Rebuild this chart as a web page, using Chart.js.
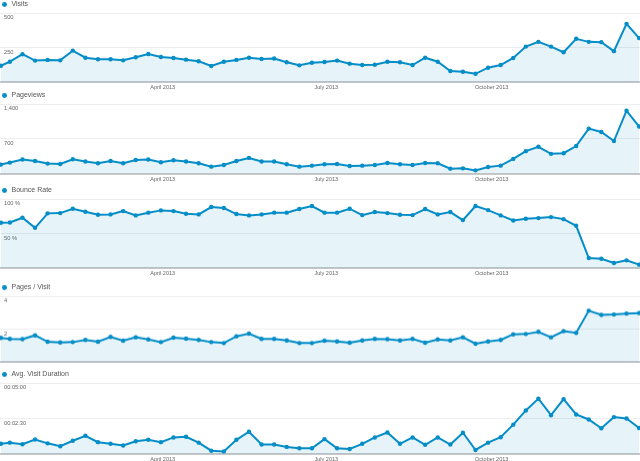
<!DOCTYPE html>
<html>
<head>
<meta charset="utf-8">
<script src="https://cdn.jsdelivr.net/npm/chart.js@4.4.0/dist/chart.umd.min.js"></script>
<style>
  html, body { margin: 0; padding: 0; background: #fff; }
  body { width: 640px; height: 461px; position: relative; overflow: hidden; }
  .panel { position: absolute; left: 0; width: 640px; }
</style>
</head>
<body>
<div class="panel" id="p0"><canvas id="c0"></canvas></div>
<div class="panel" id="p1"><canvas id="c1"></canvas></div>
<div class="panel" id="p2"><canvas id="c2"></canvas></div>
<div class="panel" id="p3"><canvas id="c3"></canvas></div>
<div class="panel" id="p4"><canvas id="c4"></canvas></div>
<script>
// weekly points, first one is the partial week starting Jan 1
const weekDates = [
  '2013-01-01','2013-01-06','2013-01-13','2013-01-20','2013-01-27','2013-02-03','2013-02-10','2013-02-17',
  '2013-02-24','2013-03-03','2013-03-10','2013-03-17','2013-03-24','2013-03-31','2013-04-07','2013-04-14',
  '2013-04-21','2013-04-28','2013-05-05','2013-05-12','2013-05-19','2013-05-26','2013-06-02','2013-06-09',
  '2013-06-16','2013-06-23','2013-06-30','2013-07-07','2013-07-14','2013-07-21','2013-07-28','2013-08-04',
  '2013-08-11','2013-08-18','2013-08-25','2013-09-01','2013-09-08','2013-09-15','2013-09-22','2013-09-29',
  '2013-10-06','2013-10-13','2013-10-20','2013-10-27','2013-11-03','2013-11-10','2013-11-17','2013-11-24',
  '2013-12-01','2013-12-08','2013-12-15','2013-12-22'
];

const visits = [120,149,203,157,162,159,229,178,167,167,159,181,205,183,176,164,152,118,149,162,
  178,169,172,145,123,142,147,157,135,125,127,149,145,125,178,149,82,77,62,106,
  125,176,258,292,258,217,314,292,290,225,422,319];
const pageviews = [183,223,284,256,203,195,290,244,209,256,209,276,284,229,270,244,209,142,175,256,
  317,244,244,189,142,162,189,195,154,162,175,216,189,175,216,209,101,107,67,134,
  162,297,453,541,399,412,555,906,839,656,1265,947];
const bounceRate = [65.8,66.2,73,58.5,79.3,79.7,86,81.7,77.4,77.8,82.6,76.4,80.3,83.6,82.6,78.8,77.8,88.4,87,78.3,
  76.4,77.8,80.3,80.3,85.5,89.9,80.3,80.3,86,76.8,81.2,79.7,77.4,76.8,85.5,77.8,81.2,69.6,89.9,84,
  76.4,69.1,71.6,72.5,73.9,71,61.4,15,14,7.8,11.6,5.4];
const pagesPerVisit = [1.47,1.41,1.40,1.63,1.24,1.20,1.22,1.35,1.24,1.53,1.30,1.51,1.38,1.22,1.49,1.43,1.35,1.22,1.16,1.57,
  1.73,1.41,1.41,1.32,1.16,1.16,1.30,1.26,1.18,1.32,1.41,1.40,1.32,1.41,1.18,1.38,1.32,1.51,1.12,1.26,
  1.35,1.69,1.71,1.84,1.51,1.88,1.78,3.12,2.87,2.89,2.95,2.98];
// seconds
const avgDuration = [43,48,41,61,45,33,56,77,50,43,36,54,60,50,70,73,48,14,11,60,
  94,40,40,30,24,24,63,24,21,43,70,91,43,70,39,70,40,90,17,48,
  71,124,184,234,164,232,167,146,109,156,150,110];

const monthTickDates = ['2013-04-01','2013-07-01','2013-10-01'];
const monthTickLabels = ['April 2013','July 2013','October 2013'];

const BLUE = '#058dc7';
const FILL = 'rgba(5,141,199,0.1)';
const FONT = "'Liberation Sans', Arial, sans-serif";

const dayOf = s => (Date.parse(s) - Date.parse('2013-01-01')) / 864e5;

const pad2 = n => String(n).padStart(2, '0');
const fmtTime = v => pad2(Math.floor(v / 3600)) + ':' + pad2(Math.floor(v / 60) % 60) + ':' + pad2(v % 60);

function renderPanel(idx, name, values, yMax, fmt, gridTop, baseline, showX) {
    const extraBottom = showX ? 11 : 4;
    const box = document.getElementById('p' + idx);
    box.style.top = (gridTop - 13) + 'px';
    box.style.height = (baseline - gridTop + 13 + extraBottom) + 'px';

    new Chart(document.getElementById('c' + idx), {
        type: 'line',
        data: {
            datasets: [{
                label: name,
                data: weekDates.map((d, i) => ({ x: dayOf(d), y: values[i] })),
                borderColor: BLUE,
                backgroundColor: FILL,
                fill: 'origin',
                borderWidth: 2,
                tension: 0,
                pointRadius: 2.2,
                pointBackgroundColor: BLUE,
                pointBorderWidth: 0
            }]
        },
        options: {
            responsive: true,
            maintainAspectRatio: false,
            animation: false,
            layout: { autoPadding: false, padding: { top: 0, left: 0, right: 0, bottom: showX ? 0 : 4 } },
            plugins: {
                legend: {
                    align: 'start',
                    maxHeight: 13,
                    labels: {
                        usePointStyle: true,
                        pointStyle: 'circle',
                        boxWidth: 7,
                        boxHeight: 3.5,
                        padding: 1,
                        color: '#555',
                        font: { family: FONT, size: 7 },
                        generateLabels: chart => Chart.defaults.plugins.legend.labels.generateLabels(chart)
                            .map(l => ({ ...l, fillStyle: BLUE, strokeStyle: BLUE, lineWidth: 0 }))
                    }
                },
                tooltip: { enabled: false }
            },
            scales: {
                x: {
                    type: 'linear',
                    min: -0.5,
                    max: 355.5,
                    grid: { display: false, drawTicks: false },
                    border: { display: true, color: '#c8c8c8', width: 2 },
                    afterBuildTicks: s => { s.ticks = monthTickDates.map(d => ({ value: dayOf(d) })); },
                    ticks: {
                        display: showX,
                        autoSkip: false,
                        maxRotation: 0,
                        padding: 2,
                        color: '#666',
                        font: { family: FONT, size: 5.5 },
                        callback: (v, i) => monthTickLabels[i]
                    }
                },
                y: {
                    min: 0,
                    max: yMax,
                    afterFit: s => { s.width = 0; },
                    grid: { color: '#eeeeee', lineWidth: 1, drawTicks: false },
                    border: { display: false },
                    ticks: {
                        stepSize: yMax / 2,
                        mirror: true,
                        padding: 4,
                        labelOffset: 4.5,
                        color: '#666',
                        font: { family: FONT, size: 5.7 },
                        callback: v => v === 0 ? '' : fmt(v)
                    }
                }
            }
        }
    });
}

renderPanel(0, 'Visits', visits, 500, v => v.toLocaleString('en-US'), 13.3, 82.3, true);
renderPanel(1, 'Pageviews', pageviews, 1400, v => v.toLocaleString('en-US'), 104, 173.3, true);
renderPanel(2, 'Bounce Rate', bounceRate, 100, v => v + ' %', 198.7, 267.7, true);
renderPanel(3, 'Pages / Visit', pagesPerVisit, 4, v => String(v), 296.3, 365, false);
renderPanel(4, 'Avg. Visit Duration', avgDuration, 300, fmtTime, 382.7, 453.3, true);
</script>
</body>
</html>
